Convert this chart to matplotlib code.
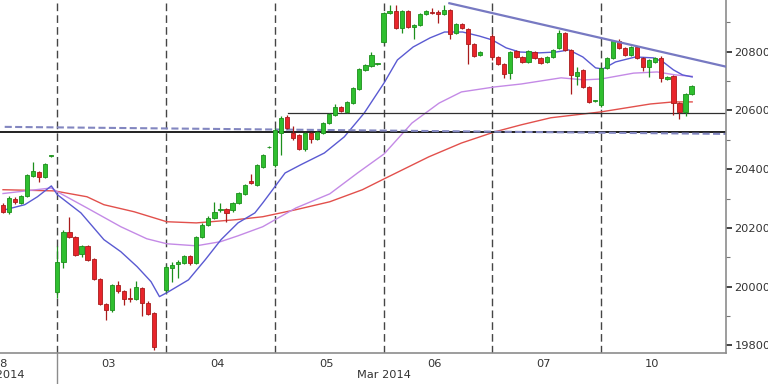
import numpy as np
import matplotlib
matplotlib.use('Agg')
import matplotlib.pyplot as plt
from matplotlib import rcParams
import matplotlib.transforms as mtransforms

# candle data, bar index -9 .. 105 (18 bar slots per session, NaN = empty slot)
first_bar = -9
opens = [20279, 20255, 20299, 20286, 20309, 20377, 20391, 20374, 20444,
         # 03
         19983, 20085, 20187, 20170, 20112, 20139, 20095, 20027, 19942,
         19921, 20006, 19986, 19962, 19959, 19996, 19945, 19911, np.nan,
         # 04
         19989, 20064, 20078, 20081, 20105, 20081, 20170, 20211, 20235,
         20260, 20263, 20260, 20285, 20316, 20361, 20347, 20408, 20474,
         # 05
         20415, 20524, 20578, 20524, 20517, 20469, 20524, 20503, 20524,
         20558, 20585, 20612, 20595, 20626, 20673, 20738, 20751, 20757,
         # 06
         20833, 20932, 20938, 20881, 20938, 20884, 20891, 20928, 20935,
         20934, 20928, 20942, 20864, 20894, 20877, 20826, 20789, np.nan,
         # 07
         20853, 20782, 20758, 20728, 20802, 20782, 20765, 20799, 20778,
         20765, 20782, 20813, 20864, 20806, 20717, 20738, 20680, 20631,
         # 10
         20619, 20745, 20779, 20836, 20813, 20789, 20816, 20779, 20748,
         20765, 20779, 20707, 20717, 20626, 20595, 20656]
closes = [20255, 20302, 20289, 20309, 20381, 20394, 20374, 20418, 20447,
          # 03
          20085, 20187, 20170, 20109, 20139, 20092, 20027, 19942, 19921,
          20006, 19986, 19959, 19959, 19999, 19945, 19908, 19796, np.nan,
          # 04
          20067, 20075, 20085, 20105, 20081, 20170, 20211, 20235, 20254,
          20263, 20251, 20285, 20319, 20347, 20354, 20415, 20449, 20476,
          # 05
          20534, 20575, 20541, 20507, 20469, 20524, 20503, 20527, 20558,
          20588, 20612, 20598, 20629, 20677, 20741, 20755, 20789, 20759,
          # 06
          20932, 20938, 20881, 20938, 20884, 20891, 20928, 20938, 20932,
          20930, 20942, 20860, 20894, 20881, 20826, 20785, 20799, np.nan,
          # 07
          20782, 20758, 20724, 20799, 20782, 20765, 20802, 20778, 20762,
          20782, 20806, 20864, 20806, 20721, 20731, 20680, 20629, 20633,
          # 10
          20745, 20779, 20836, 20813, 20789, 20816, 20779, 20748, 20772,
          20779, 20711, 20714, 20626, 20595, 20656, 20683]
highs = [20286, 20309, 20305, 20312, 20384, 20425, 20395, 20422, 20449,
         # 03
         20140, 20194, 20238, 20174, 20143, 20143, 20098, 20030, 19945,
         20010, 20020, 19990, 19996, 20020, 20000, 19950, 19915, np.nan,
         # 04
         20072, 20085, 20092, 20109, 20109, 20174, 20215, 20239, 20289,
         20286, 20267, 20289, 20323, 20351, 20385, 20419, 20453, 20478,
         # 05
         20540, 20580, 20585, 20547, 20521, 20528, 20528, 20531, 20562,
         20592, 20622, 20616, 20633, 20681, 20745, 20759, 20799, 20761,
         # 06
         20936, 20959, 20959, 20942, 20942, 20895, 20932, 20942, 20949,
         20942, 20959, 20946, 20898, 20898, 20881, 20830, 20803, np.nan,
         # 07
         20860, 20786, 20762, 20803, 20806, 20786, 20806, 20803, 20782,
         20786, 20810, 20874, 20868, 20810, 20748, 20742, 20684, 20635,
         # 10
         20749, 20783, 20840, 20843, 20817, 20820, 20820, 20783, 20776,
         20783, 20785, 20718, 20721, 20630, 20660, 20687]
lows = [20250, 20248, 20282, 20282, 20305, 20372, 20357, 20370, 20442,
        # 03
        19962, 20064, 20165, 20104, 20102, 20088, 20022, 19936, 19887,
        19915, 19980, 19938, 19949, 19955, 19901, 19904, 19785, np.nan,
        # 04
        19982, 20017, 20030, 20078, 20075, 20078, 20165, 20206, 20230,
        20255, 20221, 20255, 20280, 20312, 20348, 20343, 20404, 20472,
        # 05
        20408, 20449, 20537, 20500, 20465, 20462, 20490, 20498, 20520,
        20554, 20581, 20594, 20591, 20622, 20669, 20734, 20747, 20755,
        # 06
        20829, 20928, 20877, 20864, 20880, 20843, 20887, 20924, 20928,
        20898, 20924, 20843, 20860, 20877, 20758, 20781, 20785, np.nan,
        # 07
        20772, 20754, 20711, 20707, 20778, 20761, 20761, 20774, 20758,
        20761, 20778, 20809, 20802, 20656, 20687, 20676, 20625, 20629,
        # 10
        20612, 20741, 20775, 20809, 20785, 20785, 20775, 20735, 20714,
        20761, 20697, 20703, 20585, 20571, 20581, 20652]

# moving averages (bar index, value)
ma_fast_x = [-9, -5.4, -3.3, -1, 0, 3.9, 7.7, 10.5, 13.2, 15.5, 16.9, 18.1,
             21.7, 24.5, 27.1, 29.9, 32.7, 34, 36, 37.7, 40.3, 44.2, 47.5,
             50.8, 54.1, 56.3, 58.9, 61.7, 64.1, 67.1, 69.9, 72, 74.3, 76.5,
             79.8, 82.6, 84.7, 87, 89.1, 90.3, 92.4, 95.7, 98.7, 100.3, 102,
             103.5, 105.1]
ma_fast = [20260, 20279, 20306, 20343, 20313, 20251, 20160, 20119, 20068,
           20017, 19966, 19979, 20023, 20092, 20160, 20217, 20251, 20285,
           20340, 20387, 20415, 20455, 20510, 20591, 20694, 20772, 20816,
           20847, 20867, 20867, 20853, 20840, 20813, 20799, 20796, 20799,
           20806, 20782, 20745, 20741, 20765, 20782, 20779, 20765, 20738,
           20721, 20714]
ma_mid_x = [-9, -1, 0, 4.9, 10.5, 14.8, 18.1, 23, 27, 29.9, 34, 39.5, 45.1,
            49.7, 54.1, 58.7, 63.2, 66.9, 72.4, 76.8, 83.4, 87.2, 90, 95.4,
            99.3, 102.3, 105.1]
ma_mid = [20317, 20336, 20323, 20268, 20204, 20163, 20146, 20139, 20153,
          20173, 20204, 20268, 20316, 20387, 20452, 20557, 20625, 20663,
          20680, 20690, 20711, 20704, 20707, 20727, 20731, 20721, 20716]
ma_slow_x = [-9, -0.5, 4.9, 7.7, 12.7, 18.1, 23, 29.6, 34, 39.5, 45.1, 50.5,
             54.1, 61.5, 66.9, 72.4, 76.8, 81.7, 90, 98.2, 102, 105.1]
ma_slow = [20330, 20326, 20306, 20279, 20255, 20221, 20217, 20228, 20238,
           20262, 20289, 20330, 20367, 20442, 20489, 20527, 20551, 20575,
           20595, 20622, 20629, 20629]

# drawn levels
support_level = 20526
minor_level = 20590
minor_level_start = 38.2
dashed_level_x = [-8.72, 110.7]
dashed_level = [20544, 20520]
trend_x = [64.9, 110.7]
trend_y = [20965, 20749]

day_labels = ['28', '03', '04', '05', '06', '07', '10']
month_labels = ['Feb 2014', 'Mar 2014']
bars_per_day = 18

UP_FACE, UP_EDGE = '#2fbf2f', '#1c8f1c'
DN_FACE, DN_EDGE = '#e8252b', '#a81b1b'


def setup():
    rcParams['font.family'] = ['DejaVu Sans']
    rcParams['font.size'] = 8
    rcParams['axes.unicode_minus'] = False


def draw_candles(ax):
    o = np.array(opens, dtype=float)
    c = np.array(closes, dtype=float)
    h = np.array(highs, dtype=float)
    l = np.array(lows, dtype=float)
    x = np.arange(first_bar, first_bar + len(o))
    ok = ~np.isnan(o)
    x, o, c, h, l = x[ok], o[ok], c[ok], h[ok], l[ok]
    up = c >= o
    for mask, face, edge in [(up, UP_FACE, UP_EDGE), (~up, DN_FACE, DN_EDGE)]:
        ax.vlines(x[mask], l[mask], h[mask], color=edge, lw=0.9, zorder=3)
        bottom = np.minimum(o[mask], c[mask])
        height = np.maximum(np.abs(c[mask] - o[mask]), 3)
        ax.bar(x[mask], height, bottom=bottom, width=0.7, color=face,
               edgecolor=edge, linewidth=0.6, zorder=4)


def main():
    setup()
    fig = plt.figure(figsize=(7.68, 3.84), dpi=100)
    ax = fig.add_axes([0, 31 / 384, 726 / 768, 353 / 384])

    # session separators
    for d in range(6):
        ax.axvline(d * bars_per_day, color='#454545', lw=1.0,
                   ls=(0, (5.5, 3.0)), zorder=1)

    ax.plot(ma_slow_x, ma_slow, color='#e2504c', lw=1.0, zorder=2)
    ax.plot(ma_mid_x, ma_mid, color='#c48ae6', lw=1.0, zorder=2)
    ax.plot(ma_fast_x, ma_fast, color='#5a5ad2', lw=1.0, zorder=2)

    ax.axhline(support_level, color='#202020', lw=1.4, zorder=2)
    ax.plot([minor_level_start, 112], [minor_level, minor_level],
            color='#303030', lw=0.9, zorder=2)
    ax.plot(dashed_level_x, dashed_level, color='#8286c0', lw=1.5,
            ls=(0, (3.4, 1.6)), zorder=2)
    ax.plot(trend_x, trend_y, color='#7779c2', lw=1.6, zorder=5)

    draw_candles(ax)

    ax.set_xlim(-8.72, 110.7)
    ax.set_ylim(19774, 20976)

    for side in ['left', 'top']:
        ax.spines[side].set_visible(False)
    for side in ['right', 'bottom']:
        ax.spines[side].set_color('#8c8c8c')
        ax.spines[side].set_linewidth(1.2)

    ax.yaxis.tick_right()
    ax.set_yticks(np.arange(19800, 20801, 200))
    ax.set_yticks(np.arange(19900, 20901, 200), minor=True)
    ax.tick_params(axis='y', which='major', length=4, width=1.2,
                   color='#222222', labelcolor='#333333', pad=2,
                   labelsize=8.2)
    ax.tick_params(axis='y', which='minor', length=3, width=0.8,
                   color='#777777')

    centers = [(i - 0.5) * bars_per_day - 0.5 for i in range(len(day_labels))]
    ax.set_xticks(centers)
    ax.set_xticklabels(day_labels)
    ax.tick_params(axis='x', length=0, pad=4, labelcolor='#333333',
                   labelsize=8.2)

    trans = mtransforms.blended_transform_factory(ax.transData, ax.transAxes)
    ax.text(-9.8, -0.047, month_labels[0], transform=trans, ha='center',
            va='top', color='#333333', fontsize=8.2)
    ax.text(54, -0.047, month_labels[1], transform=trans, ha='center',
            va='top', color='#333333', fontsize=8.2)
    ax.plot([0, 0], [0, -31 / 353], transform=trans, color='#8c8c8c',
            lw=1.0, clip_on=False)

    fig.savefig('out.png', dpi=100)
    plt.close(fig)


if __name__ == '__main__':
    main()
